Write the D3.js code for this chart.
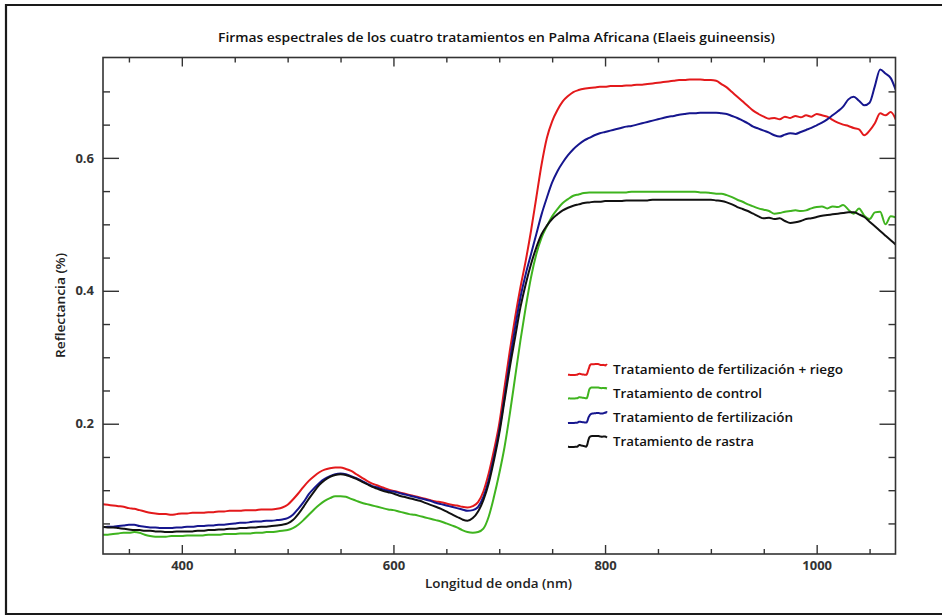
<!DOCTYPE html>
<html><head><meta charset="utf-8">
<script src="https://cdn.jsdelivr.net/npm/d3@7"></script>
<style>
html,body{margin:0;padding:0;background:#fff;}
svg{display:block;}
text{font-family:"Open Sans","Liberation Sans",sans-serif;}
</style></head>
<body><svg id="chart" width="942" height="616"></svg>
<script>
// ---------------- DATA ----------------
const chartTitle = "Firmas espectrales de los cuatro tratamientos en Palma Africana (Elaeis guineensis)";
const xTitle = "Longitud de onda (nm)";
const yTitle = "Reflectancia (%)";

const wavelengths = [
325,330,335,340,345,350,355,360,365,370,
375,380,385,390,395,400,405,410,415,420,
425,430,435,440,445,450,455,460,465,470,
475,480,485,490,495,500,505,510,515,520,
525,530,535,540,545,550,555,560,565,570,
575,580,585,590,595,600,605,610,615,620,
625,630,635,640,645,650,655,660,665,670,
675,680,685,690,695,700,705,710,715,720,
725,730,735,740,745,750,755,760,765,770,
775,780,785,790,795,800,805,810,815,820,
825,830,835,840,845,850,855,860,865,870,
875,880,885,890,895,900,905,910,915,920,
925,930,935,940,945,950,955,960,965,970,
975,980,985,990,995,1000,1005,1010,1015,1020,
1025,1030,1035,1040,1045,1050,1055,1060,1065,1070,
1075];

const seriesNames = [
  "Tratamiento de fertilización + riego",
  "Tratamiento de control",
  "Tratamiento de fertilización",
  "Tratamiento de rastra"
];
const seriesColors = ["#e3191b", "#3fb41f", "#16168e", "#111111"];

const fertRiego = [
0.079,0.078,0.077,0.076,0.075,0.073,0.072,0.070,0.068,0.066,
0.065,0.064,0.064,0.063,0.064,0.065,0.065,0.066,0.066,0.066,
0.067,0.067,0.068,0.068,0.069,0.069,0.069,0.070,0.070,0.070,
0.071,0.071,0.071,0.072,0.074,0.078,0.086,0.095,0.105,0.114,
0.121,0.127,0.131,0.133,0.134,0.134,0.132,0.129,0.124,0.119,
0.114,0.110,0.107,0.104,0.101,0.099,0.097,0.095,0.093,0.091,
0.089,0.087,0.085,0.083,0.082,0.080,0.078,0.077,0.075,0.074,
0.076,0.082,0.098,0.125,0.160,0.200,0.255,0.310,0.360,0.405,
0.445,0.490,0.540,0.590,0.630,0.655,0.672,0.685,0.693,0.699,
0.702,0.704,0.705,0.706,0.707,0.707,0.708,0.708,0.708,0.709,
0.709,0.710,0.710,0.711,0.712,0.713,0.714,0.715,0.716,0.717,
0.717,0.718,0.718,0.718,0.717,0.717,0.716,0.711,0.706,0.699,
0.692,0.685,0.678,0.671,0.666,0.662,0.659,0.660,0.658,0.662,
0.660,0.663,0.661,0.664,0.662,0.666,0.664,0.662,0.657,0.653,
0.650,0.648,0.645,0.643,0.634,0.641,0.652,0.667,0.664,0.669,
0.657];

const control = [
0.033,0.033,0.034,0.035,0.036,0.036,0.037,0.036,0.033,0.031,
0.030,0.030,0.030,0.031,0.031,0.031,0.032,0.032,0.032,0.032,
0.033,0.033,0.033,0.034,0.034,0.034,0.035,0.035,0.035,0.036,
0.036,0.037,0.037,0.038,0.039,0.040,0.043,0.048,0.055,0.063,
0.071,0.078,0.084,0.088,0.091,0.091,0.090,0.087,0.084,0.081,
0.079,0.077,0.075,0.073,0.071,0.070,0.068,0.066,0.064,0.063,
0.061,0.059,0.057,0.055,0.053,0.050,0.047,0.044,0.040,0.037,
0.036,0.037,0.042,0.060,0.090,0.125,0.165,0.215,0.270,0.325,
0.375,0.420,0.455,0.480,0.497,0.512,0.523,0.532,0.538,0.543,
0.545,0.547,0.548,0.548,0.548,0.548,0.548,0.548,0.548,0.548,
0.549,0.549,0.549,0.549,0.549,0.549,0.549,0.549,0.549,0.549,
0.549,0.549,0.549,0.548,0.548,0.547,0.546,0.546,0.544,0.541,
0.537,0.534,0.530,0.527,0.524,0.522,0.520,0.516,0.517,0.519,
0.520,0.521,0.520,0.521,0.524,0.526,0.527,0.524,0.527,0.526,
0.529,0.522,0.516,0.524,0.513,0.508,0.518,0.519,0.500,0.512,
0.510];

const fertilizacion = [
0.044,0.045,0.045,0.046,0.047,0.048,0.048,0.046,0.045,0.044,
0.044,0.043,0.043,0.043,0.044,0.044,0.045,0.045,0.046,0.046,
0.047,0.047,0.048,0.048,0.049,0.050,0.051,0.051,0.052,0.053,
0.053,0.054,0.054,0.055,0.056,0.058,0.063,0.072,0.082,0.094,
0.103,0.111,0.117,0.121,0.124,0.125,0.124,0.121,0.118,0.114,
0.110,0.106,0.104,0.101,0.099,0.098,0.096,0.094,0.092,0.090,
0.088,0.086,0.084,0.081,0.079,0.077,0.075,0.073,0.071,0.069,
0.070,0.075,0.090,0.115,0.150,0.190,0.240,0.295,0.345,0.390,
0.425,0.455,0.485,0.515,0.540,0.563,0.580,0.593,0.604,0.613,
0.620,0.626,0.630,0.634,0.637,0.639,0.641,0.643,0.645,0.647,
0.648,0.650,0.652,0.654,0.656,0.658,0.660,0.662,0.663,0.665,
0.666,0.667,0.667,0.668,0.668,0.668,0.668,0.667,0.666,0.663,
0.660,0.656,0.652,0.647,0.644,0.641,0.638,0.634,0.632,0.635,
0.637,0.636,0.639,0.642,0.645,0.649,0.653,0.658,0.664,0.670,
0.677,0.688,0.692,0.686,0.679,0.683,0.708,0.733,0.727,0.720,
0.701];

const rastra = [
0.045,0.044,0.044,0.043,0.042,0.041,0.040,0.040,0.039,0.039,
0.038,0.038,0.037,0.037,0.038,0.038,0.038,0.038,0.039,0.039,
0.040,0.040,0.041,0.041,0.042,0.042,0.043,0.043,0.044,0.044,
0.045,0.045,0.046,0.047,0.048,0.050,0.055,0.064,0.075,0.087,
0.098,0.108,0.115,0.120,0.123,0.124,0.123,0.120,0.117,0.113,
0.109,0.105,0.102,0.099,0.097,0.095,0.092,0.090,0.088,0.086,
0.084,0.081,0.078,0.075,0.072,0.068,0.064,0.060,0.056,0.054,
0.058,0.068,0.085,0.110,0.145,0.185,0.235,0.285,0.330,0.375,
0.410,0.440,0.465,0.485,0.498,0.508,0.515,0.521,0.525,0.528,
0.530,0.532,0.533,0.534,0.534,0.535,0.535,0.535,0.535,0.536,
0.536,0.536,0.536,0.536,0.537,0.537,0.537,0.537,0.537,0.537,
0.537,0.537,0.537,0.537,0.537,0.537,0.536,0.535,0.533,0.530,
0.526,0.523,0.520,0.516,0.512,0.509,0.510,0.508,0.509,0.505,
0.502,0.503,0.505,0.508,0.509,0.511,0.513,0.514,0.515,0.516,
0.517,0.518,0.518,0.515,0.511,0.504,0.497,0.490,0.483,0.476,
0.469];

const seriesValues = [fertRiego, control, fertilizacion, rastra];

const xMajorTicks = [400, 600, 800, 1000];
const xMinorTicks = [350, 450, 500, 550, 650, 700, 750, 850, 900, 950, 1050];
const yMajorTicks = [0.2, 0.4, 0.6];
const yMinorTicks = [0.05, 0.1, 0.15, 0.25, 0.3, 0.35, 0.45, 0.5, 0.55, 0.65, 0.7];
const xDomain = [325.5, 1074.5];
const yDomain = [0.004, 0.751];

// ---------------- LAYOUT ----------------
const svg = d3.select("#chart");
const W = 942, H = 616;
const plot = {left: 103, top: 57.5, right: 895.5, bottom: 554};

const x = d3.scaleLinear().domain(xDomain).range([plot.left, plot.right]);
const y = d3.scaleLinear().domain(yDomain).range([plot.bottom, plot.top]);

function fitText(sel, width) {
  sel.attr("textLength", width).attr("lengthAdjust", "spacingAndGlyphs");
}

// outer frame (top, left, bottom)
const frame = svg.append("g").attr("stroke", "#1a1a1a").attr("stroke-width", 2.2).attr("fill", "none");
frame.append("path").attr("d", `M942,5 H6 V614 H942`);

// title
svg.append("text")
  .attr("x", 496.5).attr("y", 41.5)
  .attr("text-anchor", "middle")
  .attr("font-size", 13).attr("font-weight", 600).attr("fill", "#111")
  .text(chartTitle).call(fitText, 557);

// clip
svg.append("clipPath").attr("id", "plotclip").append("rect")
  .attr("x", plot.left).attr("y", plot.top)
  .attr("width", plot.right - plot.left).attr("height", plot.bottom - plot.top);

// lines
const line = d3.line()
  .x((d, i) => x(wavelengths[i]))
  .y(d => y(d))
  .curve(d3.curveMonotoneX);

const lines = svg.append("g").attr("clip-path", "url(#plotclip)");
seriesValues.forEach((vals, k) => {
  lines.append("path")
    .attr("d", line(vals))
    .attr("fill", "none")
    .attr("stroke", seriesColors[k])
    .attr("stroke-width", 2)
    .attr("stroke-linejoin", "round");
});

// axes
const axisColor = "#333";
function styleAxis(g) {
  g.select(".domain").remove();
  g.selectAll(".tick line").attr("stroke", axisColor).attr("stroke-width", 1.4);
  g.selectAll(".tick text").attr("fill", "#333").attr("font-size", 13).attr("font-weight", 700)
    .attr("font-family", '"Open Sans","Liberation Sans",sans-serif');
}
// bottom
svg.append("g").attr("transform", `translate(0,${plot.bottom})`)
  .call(d3.axisBottom(x).tickValues(xMajorTicks).tickSize(-9).tickPadding(7).tickFormat(d3.format("d")))
  .call(styleAxis);
svg.append("g").attr("transform", `translate(0,${plot.bottom})`)
  .call(d3.axisBottom(x).tickValues(xMinorTicks).tickSize(-5).tickFormat(""))
  .call(styleAxis);
// top
svg.append("g").attr("transform", `translate(0,${plot.top})`)
  .call(d3.axisTop(x).tickValues(xMajorTicks).tickSize(-9).tickFormat(""))
  .call(styleAxis);
svg.append("g").attr("transform", `translate(0,${plot.top})`)
  .call(d3.axisTop(x).tickValues(xMinorTicks).tickSize(-5).tickFormat(""))
  .call(styleAxis);
// left
svg.append("g").attr("transform", `translate(${plot.left},0)`)
  .call(d3.axisLeft(y).tickValues(yMajorTicks).tickSize(-16).tickPadding(9).tickFormat(d3.format(".1f")))
  .call(styleAxis);
svg.append("g").attr("transform", `translate(${plot.left},0)`)
  .call(d3.axisLeft(y).tickValues(yMinorTicks).tickSize(-7).tickFormat(""))
  .call(styleAxis);
// right
svg.append("g").attr("transform", `translate(${plot.right},0)`)
  .call(d3.axisRight(y).tickValues(yMajorTicks).tickSize(-16).tickFormat(""))
  .call(styleAxis);
svg.append("g").attr("transform", `translate(${plot.right},0)`)
  .call(d3.axisRight(y).tickValues(yMinorTicks).tickSize(-7).tickFormat(""))
  .call(styleAxis);

// plot box
svg.append("rect")
  .attr("x", plot.left).attr("y", plot.top)
  .attr("width", plot.right - plot.left).attr("height", plot.bottom - plot.top)
  .attr("fill", "none").attr("stroke", axisColor).attr("stroke-width", 1.6);

// axis titles
svg.append("text")
  .attr("x", 498.5).attr("y", 587.5)
  .attr("text-anchor", "middle")
  .attr("font-size", 13).attr("font-weight", 600).attr("fill", "#222")
  .text(xTitle).call(fitText, 147);
svg.append("text")
  .attr("transform", "translate(64.5,305.5) rotate(-90)")
  .attr("text-anchor", "middle")
  .attr("font-size", 13).attr("font-weight", 600).attr("fill", "#222")
  .text(yTitle).call(fitText, 105);

// legend
const legendWidths = [230, 149, 180, 141];
const legendBaselines = [374, 397.5, 422, 446];
const legend = svg.append("g");
seriesValues.forEach((vals, k) => {
  const ext = d3.extent(vals);
  const gx = d3.scaleLinear().domain(xDomain).range([568, 607]);
  const gy = d3.scaleLinear().domain(ext).range([legendBaselines[k] + 1, legendBaselines[k] - 10]);
  const gl = d3.line().x((d, i) => gx(wavelengths[i])).y(d => gy(d)).curve(d3.curveMonotoneX);
  legend.append("path").attr("d", gl(vals))
    .attr("fill", "none").attr("stroke", seriesColors[k]).attr("stroke-width", 2);
  legend.append("text")
    .attr("x", 613).attr("y", legendBaselines[k])
    .attr("font-size", 13).attr("font-weight", 600).attr("fill", "#111")
    .text(seriesNames[k]).call(fitText, legendWidths[k]);
});
</script>
</body></html>
